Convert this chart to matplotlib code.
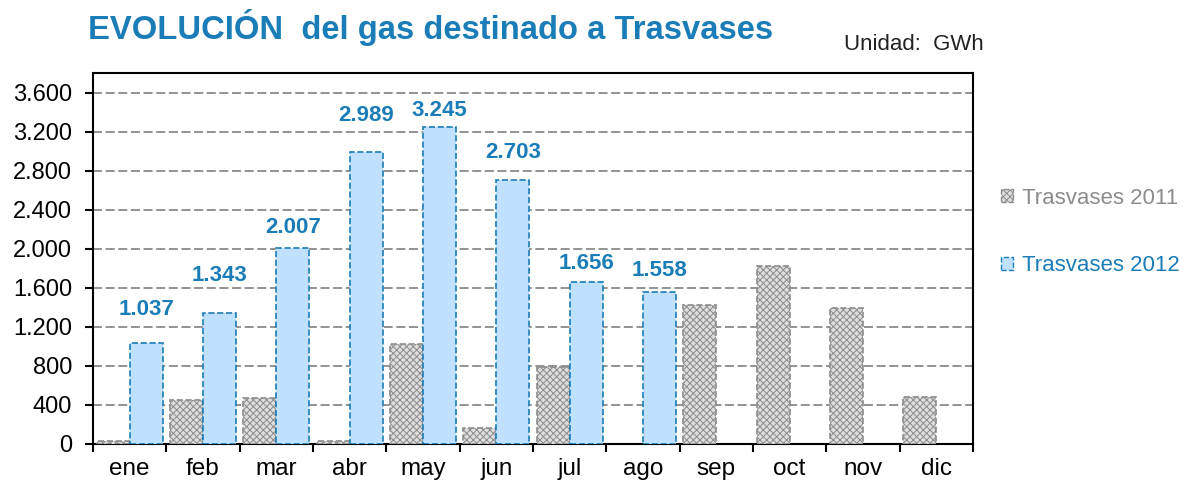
import numpy as np
import matplotlib
matplotlib.use('Agg')
import matplotlib.pyplot as plt
from matplotlib.ticker import FuncFormatter, FixedLocator
from matplotlib.patches import Patch

plt.rcParams['font.family'] = ['Liberation Sans', 'DejaVu Sans']
plt.rcParams['hatch.color'] = '#ffffff'
plt.rcParams['hatch.linewidth'] = 0.7

meses = ['ene', 'feb', 'mar', 'abr', 'may', 'jun', 'jul', 'ago', 'sep', 'oct', 'nov', 'dic']
tras_2011 = [30, 450, 470, 30, 1025, 165, 790, np.nan, 1425, 1825, 1395, 480]
tras_2012 = [1037, 1343, 2007, 2989, 3245, 2703, 1656, 1558]
# altura (GWh) donde van las etiquetas de 2012, colocadas a mano en el original
altura_etiq = [1374, 1723, 2215, 3364, 3415, 2985, 1846, 1774]

azul = '#1a7db8'
gris = '#8c8c8c'
relleno_gris = '#dedede'

fig = plt.figure(figsize=(11.9, 4.88), dpi=100)
ax = fig.add_axes([93/1190, 1-444/488, 880/1190, 371/488])

x = np.arange(len(meses))
w = 0.45
ax.bar(x - w/2, tras_2011, width=w, facecolor=relleno_gris, edgecolor=gris,
       hatch='xxxxx', linestyle='--', linewidth=1.2, zorder=3)
ax.bar(x[:len(tras_2012)] + w/2, tras_2012, width=w, facecolor='#bfe0ff',
       edgecolor=azul, linestyle='--', linewidth=1.2, zorder=3)

for xi, v, h in zip(x, tras_2012, altura_etiq):
    ax.text(xi + w/2, h, '{:,}'.format(v).replace(',', '.'), ha='center', va='center',
            fontsize=16, fontweight='bold', color=azul, zorder=4)

ax.set_xlim(-0.5, 11.5)
ax.set_ylim(0, 3800)
ax.yaxis.set_major_locator(FixedLocator(np.arange(0, 3601, 400)))
ax.yaxis.set_major_formatter(FuncFormatter(lambda v, p: '{:,.0f}'.format(v).replace(',', '.')))
ax.yaxis.grid(True, color='#8a8a8a', linestyle=(0, (5, 2)), linewidth=1.3, zorder=0)
ax.set_xticks(np.arange(-0.5, 12, 1))
ax.set_xticklabels([])
ax.set_xticks(x, minor=True)
ax.set_xticklabels(meses, minor=True)
ax.tick_params(axis='x', which='minor', length=0, labelsize=17.5, pad=10)
ax.tick_params(axis='x', which='major', length=6, width=1.5, direction='out')
ax.tick_params(axis='y', length=6, width=1.5, labelsize=17, pad=9)
for s in ax.spines.values():
    s.set_linewidth(1.5)
    s.set_color('black')

fig.text(88/1190, 1-28/488, 'EVOLUCIÓN  del gas destinado a Trasvases', fontsize=23.6,
         fontweight='bold', color=azul, va='center', ha='left')
fig.text(984/1190, 1-45/488, 'Unidad:  GWh', fontsize=16, ha='right', va='center', color='#222222')

handles = [Patch(facecolor=relleno_gris, edgecolor=gris, hatch='xxxxx', linestyle='--'),
           Patch(facecolor='#bfe0ff', edgecolor=azul, linestyle='--')]
leg = fig.legend(handles, ['Trasvases 2011', 'Trasvases 2012'], loc='center left',
                 bbox_to_anchor=(1001/1190, 1-232/488), frameon=False, fontsize=16,
                 handlelength=0.55, handleheight=0.55, handletextpad=0.4,
                 labelspacing=2.1, borderpad=0, borderaxespad=0)
for t, c in zip(leg.get_texts(), [gris, azul]):
    t.set_color(c)

fig.savefig('out.png', dpi=100)
